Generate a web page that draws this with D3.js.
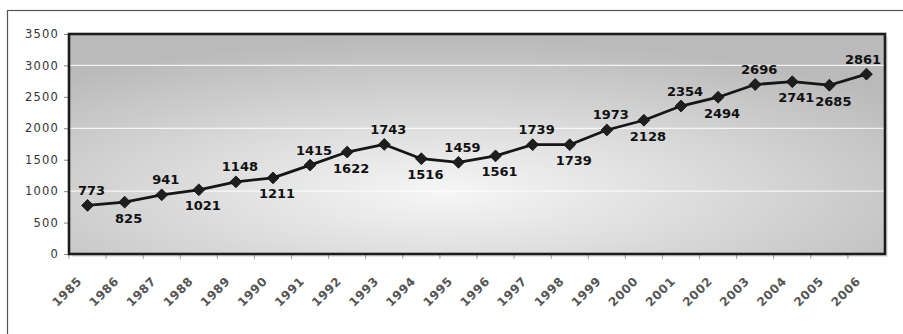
<!DOCTYPE html>
<html>
<head>
<meta charset="utf-8">
<script src="https://cdn.jsdelivr.net/npm/d3@7"></script>
<style>
  html, body { margin: 0; padding: 0; background: #fff; }
  svg { display: block; }
</style>
</head>
<body>
<svg id="chart" width="903" height="334"></svg>
<script>
// Yearly totals, 1985–2006
const years = ["1985","1986","1987","1988","1989","1990","1991","1992","1993","1994","1995",
               "1996","1997","1998","1999","2000","2001","2002","2003","2004","2005","2006"];
const totals = [773, 825, 941, 1021, 1148, 1211, 1415, 1622, 1743, 1516, 1459,
                1561, 1739, 1739, 1973, 2128, 2354, 2494, 2696, 2741, 2685, 2861];
// Which side of the point each value label sits on
const labelSide = ["above","below","above","below","above","below","above","below","above","below","above",
                   "below","above","below","above","below","above","below","above","below","below","above"];
const yTicks = [0, 500, 1000, 1500, 2000, 2500, 3000, 3500];
const gridValues = [1000, 2000, 3000];

const svg = d3.select("#chart");
const W = 903, H = 334;
const plot = { left: 69, right: 885, top: 34, bottom: 254 };

// outer chart frame
svg.append("rect").attr("x", 0).attr("y", 0).attr("width", W).attr("height", H).attr("fill", "#fff");
svg.append("rect")
  .attr("x", 7.5).attr("y", 10.5).attr("width", W + 10).attr("height", H + 10)
  .attr("fill", "#fff").attr("stroke", "#555").attr("stroke-width", 1.2);

const x = d3.scaleBand().domain(years).range([plot.left, plot.right]).paddingInner(0).paddingOuter(0);
const y = d3.scaleLinear().domain([0, 3500]).range([plot.bottom, plot.top]);
const cx = d => x(d) + x.bandwidth() / 2;

// plot area fill: grey with a soft bright centre
const defs = svg.append("defs");
const rg = defs.append("radialGradient").attr("id", "plotFill")
  .attr("cx", 0.46).attr("cy", 0.72).attr("r", 0.7)
  .attr("fx", 0.46).attr("fy", 0.72);
rg.append("stop").attr("offset", 0).attr("stop-color", "#f6f6f6");
rg.append("stop").attr("offset", 0.45).attr("stop-color", "#dcdcdc");
rg.append("stop").attr("offset", 1).attr("stop-color", "#bababa");

// faint drop shadow
svg.append("rect")
  .attr("x", plot.left + 3).attr("y", plot.top + 3)
  .attr("width", plot.right - plot.left).attr("height", plot.bottom - plot.top)
  .attr("fill", "#d6d6d6").attr("opacity", 0.6);

svg.append("rect")
  .attr("x", plot.left).attr("y", plot.top)
  .attr("width", plot.right - plot.left).attr("height", plot.bottom - plot.top)
  .attr("fill", "url(#plotFill)");

// gridlines
svg.append("g").selectAll("line")
  .data(gridValues)
  .join("line")
  .attr("x1", plot.left).attr("x2", plot.right)
  .attr("y1", d => y(d)).attr("y2", d => y(d))
  .attr("stroke", "#fff").attr("stroke-opacity", 0.8).attr("stroke-width", 1.3);

// y axis
const yAxis = svg.append("g")
  .attr("transform", `translate(${plot.left},0)`)
  .call(d3.axisLeft(y).tickValues(yTicks).tickSize(5).tickPadding(5).tickFormat(d3.format("d")));
yAxis.select(".domain").remove();
yAxis.selectAll(".tick line").attr("stroke", "#888");
yAxis.selectAll(".tick text")
  .attr("font-family", "'DejaVu Sans', Verdana, sans-serif")
  .attr("font-size", 11.5).attr("letter-spacing", 1.2)
  .attr("fill", "#333");

// x axis: ticks at category boundaries, rotated year labels
const xAxis = svg.append("g")
  .attr("transform", `translate(0,${plot.bottom})`)
  .call(d3.axisBottom(x).tickSize(5).tickSizeOuter(0));
xAxis.select(".domain").remove();
xAxis.selectAll(".tick line")
  .attr("stroke", "#999")
  .attr("transform", `translate(${-x.bandwidth() / 2},0)`);
xAxis.selectAll(".tick text")
  .attr("font-family", "'DejaVu Sans', Verdana, sans-serif")
  .attr("font-size", 12).attr("font-weight", "bold").attr("letter-spacing", 0.6)
  .attr("fill", "#555")
  .attr("text-anchor", "end")
  .attr("dy", null)
  .attr("y", 0)
  .attr("transform", "translate(-5,28) rotate(-45)");

// plot border
svg.append("rect")
  .attr("x", plot.left).attr("y", plot.top)
  .attr("width", plot.right - plot.left).attr("height", plot.bottom - plot.top)
  .attr("fill", "none").attr("stroke", "#1c1c1c").attr("stroke-width", 2.6);

// series line
const pts = years.map((yr, i) => ({ yr, v: totals[i], side: labelSide[i] }));
svg.append("path")
  .datum(pts)
  .attr("fill", "none").attr("stroke", "#161616").attr("stroke-width", 2.8)
  .attr("stroke-linejoin", "round")
  .attr("d", d3.line().x(d => cx(d.yr)).y(d => y(d.v)));

// diamond markers
svg.append("g").selectAll("path")
  .data(pts)
  .join("path")
  .attr("d", d3.symbol(d3.symbolSquare, 70))
  .attr("transform", d => `translate(${cx(d.yr)},${y(d.v)}) rotate(45)`)
  .attr("fill", "#1e1e1e").attr("stroke", "#111").attr("stroke-width", 0.8);

// value labels
const labelHalf = 18;
svg.append("g").selectAll("text")
  .data(pts)
  .join("text")
  .attr("x", d => Math.min(cx(d.yr) + 4, plot.right - labelHalf - 4))
  .attr("y", d => y(d.v) + (d.side === "above" ? -10.5 : 20.5))
  .attr("text-anchor", "middle")
  .attr("font-family", "'DejaVu Sans', Verdana, sans-serif")
  .attr("font-size", 13).attr("font-weight", "bold")
  .attr("fill", "#111")
  .text(d => d.v);
</script>
</body>
</html>
